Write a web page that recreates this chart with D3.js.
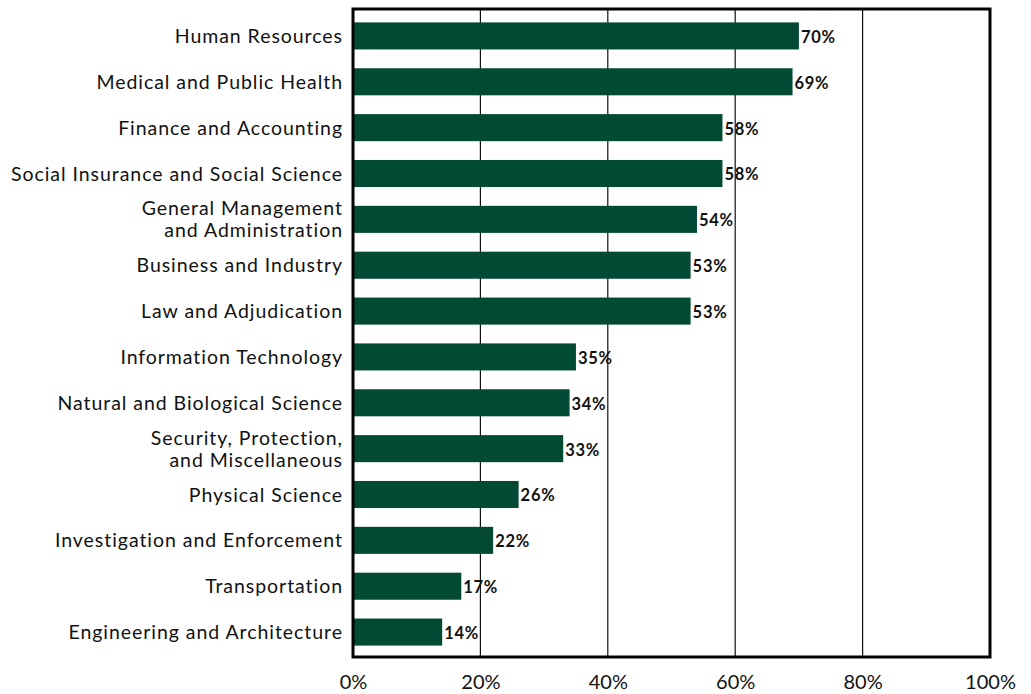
<!DOCTYPE html>
<html>
<head>
<meta charset="utf-8">
<script src="https://cdn.jsdelivr.net/npm/d3@7"></script>
<style>
  html, body { margin: 0; padding: 0; background: #fff; }
  svg { display: block; }
  text { font-family: Lato, "Open Sans", sans-serif; fill: #111; }
</style>
</head>
<body>
<svg id="chart" width="1031" height="694"></svg>
<script>
// Occupational groups (top to bottom); "\n" splits a label over two lines
const categories = [
  "Human Resources",
  "Medical and Public Health",
  "Finance and Accounting",
  "Social Insurance and Social Science",
  "General Management\nand Administration",
  "Business and Industry",
  "Law and Adjudication",
  "Information Technology",
  "Natural and Biological Science",
  "Security, Protection,\nand Miscellaneous",
  "Physical Science",
  "Investigation and Enforcement",
  "Transportation",
  "Engineering and Architecture"
];
// Share of each group, in percent
const values = [70, 69, 58, 58, 54, 53, 53, 35, 34, 33, 26, 22, 17, 14];
// Axis ticks, in percent
const tickValues = [0, 20, 40, 60, 80, 100];

const svg = d3.select("#chart");
const plotLeft = 353, plotRight = 990, plotTop = 9, plotBottom = 657;

const x = d3.scaleLinear().domain([0, 100]).range([plotLeft, plotRight]);
const y = d3.scaleBand()
  .domain(categories)
  .range([plotTop + 4, plotBottom - 2])
  .paddingInner(0.41)
  .paddingOuter(0.205);

// vertical gridlines
svg.append("g")
  .selectAll("line")
  .data(tickValues.filter(t => t > 0 && t < 100))
  .join("line")
  .attr("x1", d => x(d)).attr("x2", d => x(d))
  .attr("y1", plotTop).attr("y2", plotBottom)
  .attr("stroke", "#111").attr("stroke-width", 1.2);

// bars
svg.append("g")
  .selectAll("rect")
  .data(categories)
  .join("rect")
  .attr("x", x(0))
  .attr("y", d => y(d))
  .attr("width", (d, i) => x(values[i]) - x(0))
  .attr("height", y.bandwidth())
  .attr("fill", "#034a35");

// value labels
svg.append("g")
  .selectAll("text")
  .data(categories)
  .join("text")
  .attr("x", (d, i) => x(values[i]) + 2)
  .attr("y", d => y(d) + y.bandwidth() / 2 + 1)
  .attr("dy", "0.36em")
  .attr("font-size", 16.5)
  .attr("font-weight", 700)
  .attr("letter-spacing", 0.7)
  .text((d, i) => values[i] + "%");

// category labels
const cat = svg.append("g")
  .selectAll("text")
  .data(categories)
  .join("text")
  .attr("text-anchor", "end")
  .attr("font-size", 19.5)
  .attr("letter-spacing", 0.95)
  .attr("y", d => y(d) + y.bandwidth() / 2);
cat.each(function(d) {
  const lines = d.split("\n");
  const t = d3.select(this);
  lines.forEach((ln, k) => {
    t.append("tspan")
      .attr("x", plotLeft - 10)
      .attr("dy", k === 0 ? (0.36 - (lines.length - 1) * 0.56) + "em" : "1.12em")
      .text(ln);
  });
});

// bottom axis labels
const axis = d3.axisBottom(x)
  .tickValues(tickValues)
  .tickSize(0)
  .tickPadding(18)
  .tickFormat(d => d + "%");
const ax = svg.append("g")
  .attr("transform", `translate(0,${plotBottom})`)
  .call(axis);
ax.select(".domain").remove();
ax.selectAll("text")
  .attr("font-size", 20)
  .attr("font-family", "Lato, 'Open Sans', sans-serif")
  .attr("fill", "#111");

// plot frame
svg.append("rect")
  .attr("x", plotLeft).attr("y", plotTop)
  .attr("width", plotRight - plotLeft).attr("height", plotBottom - plotTop)
  .attr("fill", "none")
  .attr("stroke", "#000")
  .attr("stroke-width", 3);
</script>
</body>
</html>
